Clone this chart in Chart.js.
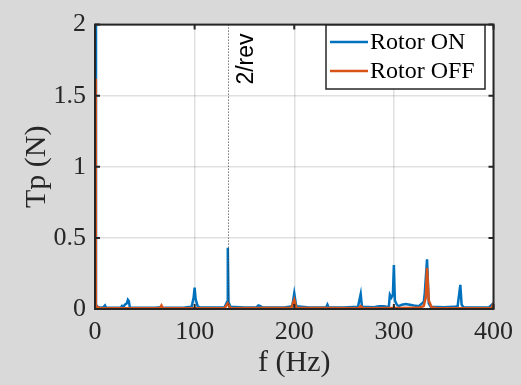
<!DOCTYPE html>
<html>
<head>
<meta charset="utf-8">
<script src="https://cdn.jsdelivr.net/npm/chart.js@4.4.0/dist/chart.umd.min.js"></script>
<style>
  html, body { margin: 0; padding: 0; background: #d9d9d9; }
  #wrap { width: 521px; height: 385px; }
</style>
</head>
<body>
<div id="wrap"><canvas id="c" width="521" height="385"></canvas></div>
<script>
// --- DATA ---
const onFreq = [0, 1, 3, 8, 10, 11, 20, 26, 27, 28, 30, 32, 33, 34, 35, 45, 60, 66.7, 70, 90, 97, 99, 100, 101, 103, 105,
  120, 130, 132.5, 133.3, 134, 136, 150, 162, 164, 166, 168, 190, 198, 200, 202, 215, 232, 233.3, 234.5, 250,
  264, 266.7, 268, 280, 285, 290, 293, 295, 296, 297.5, 299, 300, 301, 303, 305, 308, 312, 316, 320, 325,
  330, 331, 333.3, 335, 337, 350, 360, 364, 366.7, 368, 370, 395, 400];
const onVal = [2.3, 0.03, 0.01, 0.01, 0.025, 0.01, 0.008, 0.01, 0.02, 0.01, 0.03, 0.04, 0.065, 0.055, 0.01, 0.008, 0.008, 0.012, 0.008, 0.01, 0.015, 0.08, 0.15, 0.07, 0.02, 0.012,
  0.01, 0.012, 0.05, 0.43, 0.05, 0.015, 0.01, 0.012, 0.025, 0.02, 0.01, 0.01, 0.02, 0.11, 0.02, 0.01, 0.01, 0.03, 0.01, 0.01,
  0.015, 0.105, 0.015, 0.012, 0.02, 0.02, 0.015, 0.02, 0.1, 0.08, 0.1, 0.31, 0.06, 0.03, 0.02, 0.03, 0.035, 0.03, 0.025, 0.02,
  0.05, 0.11, 0.35, 0.04, 0.015, 0.012, 0.015, 0.02, 0.17, 0.03, 0.012, 0.01, 0.04];

const offFreq = [0, 0.8, 5, 65, 66.7, 68, 130, 133.3, 136, 197, 200, 202, 264, 266.7, 269, 325, 330, 332, 333.3, 335, 338, 345, 398, 400];
const offVal = [1.62, 0.02, 0.005, 0.005, 0.025, 0.005, 0.005, 0.04, 0.005, 0.008, 0.065, 0.008, 0.005, 0.02, 0.005, 0.008, 0.02, 0.08, 0.29, 0.06, 0.01, 0.005, 0.005, 0.045];

const seriesNames = ["Rotor ON", "Rotor OFF"];
const seriesColors = ["#0072BD", "#D95319"];
const xTicks = [0, 100, 200, 300, 400];
const yTicks = [0, 0.5, 1, 1.5, 2];
const revFreq = 133.3;

const axisColor = "#262626";
const serif = "'Liberation Serif', 'Times New Roman', serif";

function toPoints(fs, vs) {
  return fs.map((f, i) => ({ x: f, y: vs[i] }));
}

// --- PLUGIN: background, box, inside ticks, 2/rev marker, legend ---
const matlabLook = {
  id: "matlabLook",
  beforeDraw(chart) {
    const ctx = chart.ctx;
    const a = chart.chartArea;
    ctx.save();
    ctx.fillStyle = "#d9d9d9";
    ctx.fillRect(0, 0, chart.width, chart.height);
    ctx.fillStyle = "#ffffff";
    ctx.fillRect(a.left, a.top, a.right - a.left, a.bottom - a.top);
    ctx.restore();
  },
  afterDatasetsDraw(chart) {
    const ctx = chart.ctx;
    const a = chart.chartArea;
    const xs = chart.scales.x, ys = chart.scales.y;
    ctx.save();

    // 2/rev dotted line
    const rx = Math.round(xs.getPixelForValue(revFreq)) + 0.5;
    ctx.strokeStyle = "#333333";
    ctx.lineWidth = 1;
    ctx.setLineDash([1, 2]);
    ctx.beginPath();
    ctx.moveTo(rx, a.top);
    ctx.lineTo(rx, a.bottom);
    ctx.stroke();
    ctx.setLineDash([]);

    ctx.fillStyle = "#000";
    ctx.font = "23px 'Liberation Sans', Arial, sans-serif";
    ctx.translate(rx + 24, a.top + 60);
    ctx.rotate(-Math.PI / 2);
    ctx.textAlign = "left";
    ctx.textBaseline = "alphabetic";
    ctx.fillText("2/rev", 0, 0);
    ctx.setTransform(1, 0, 0, 1, 0, 0);

    // box
    ctx.strokeStyle = axisColor;
    ctx.lineWidth = 2;
    ctx.strokeRect(a.left, a.top, a.right - a.left, a.bottom - a.top);

    // inside ticks on all four sides
    const tl = 5;
    ctx.beginPath();
    xTicks.forEach(v => {
      const px = xs.getPixelForValue(v);
      ctx.moveTo(px, a.bottom); ctx.lineTo(px, a.bottom - tl);
      ctx.moveTo(px, a.top); ctx.lineTo(px, a.top + tl);
    });
    yTicks.forEach(v => {
      const py = ys.getPixelForValue(v);
      ctx.moveTo(a.left, py); ctx.lineTo(a.left + tl, py);
      ctx.moveTo(a.right, py); ctx.lineTo(a.right - tl, py);
    });
    ctx.stroke();

    // legend
    const lx = 326, ly = 25, lw = 159, lh = 64;
    ctx.fillStyle = "#ffffff";
    ctx.fillRect(lx, ly, lw, lh);
    ctx.strokeStyle = axisColor;
    ctx.lineWidth = 1.5;
    ctx.strokeRect(lx, ly, lw, lh);
    ctx.font = "24px " + serif;
    ctx.textBaseline = "middle";
    ctx.textAlign = "left";
    seriesNames.forEach((name, i) => {
      const yy = ly + 17 + i * 29;
      ctx.strokeStyle = seriesColors[i];
      ctx.lineWidth = 2.5;
      ctx.beginPath();
      ctx.moveTo(lx + 4, yy);
      ctx.lineTo(lx + 42, yy);
      ctx.stroke();
      ctx.fillStyle = "#000";
      ctx.fillText(name, lx + 44, yy + 1);
    });
    ctx.restore();
  }
};

new Chart(document.getElementById("c"), {
  type: "line",
  data: {
    datasets: [
      {
        label: seriesNames[0],
        data: toPoints(onFreq, onVal),
        borderColor: seriesColors[0],
        borderWidth: 2.5,
        pointRadius: 0,
        tension: 0,
        order: 2
      },
      {
        label: seriesNames[1],
        data: toPoints(offFreq, offVal),
        borderColor: seriesColors[1],
        borderWidth: 2.5,
        pointRadius: 0,
        tension: 0,
        order: 1
      }
    ]
  },
  options: {
    responsive: false,
    animation: false,
    devicePixelRatio: 1,
    layout: { padding: { top: 15, right: 26, left: 0, bottom: 0 } },
    plugins: { legend: { display: false }, tooltip: { enabled: false } },
    scales: {
      x: {
        type: "linear",
        min: 0, max: 400,
        afterFit: s => { s.height = 76; },
        afterBuildTicks: s => { s.ticks = xTicks.map(v => ({ value: v })); },
        ticks: { font: { family: serif, size: 26 }, color: axisColor, padding: 8, maxRotation: 0, callback: v => String(v) },
        grid: { color: "rgba(0,0,0,0.12)", lineWidth: 1.5, drawTicks: false },
        border: { display: false },
        title: { display: true, text: "f (Hz)", font: { family: serif, size: 30 }, color: axisColor, padding: { top: 0, bottom: 4 } }
      },
      y: {
        min: 0, max: 2,
        afterFit: s => { s.width = 95; },
        afterBuildTicks: s => { s.ticks = yTicks.map(v => ({ value: v })); },
        ticks: { font: { family: serif, size: 26 }, color: axisColor, padding: 9, callback: v => String(v) },
        grid: { color: "rgba(0,0,0,0.12)", lineWidth: 1.5, drawTicks: false },
        border: { display: false },
        title: { display: true, text: "Tp (N)", font: { family: serif, size: 30 }, color: axisColor, padding: { top: 19, bottom: 0 } }
      }
    }
  },
  plugins: [matlabLook]
});
</script>
</body>
</html>
